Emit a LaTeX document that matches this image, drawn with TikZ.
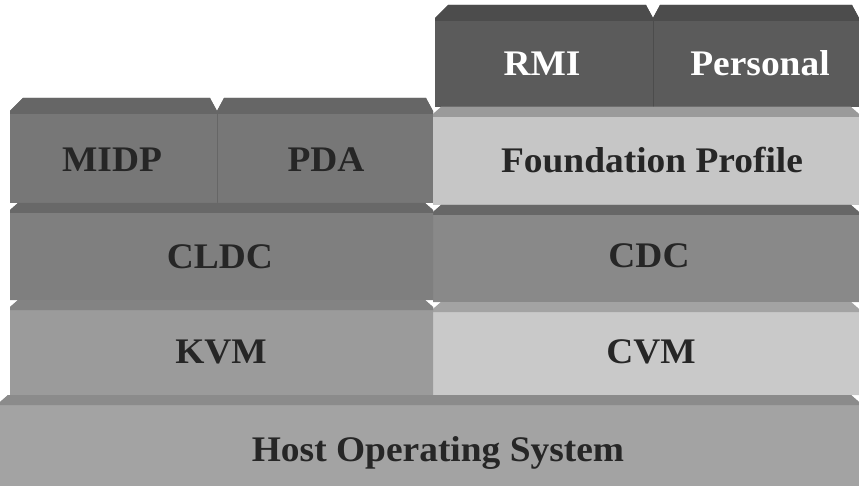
\documentclass[tikz,border=0pt]{standalone}
\usepackage{fontspec}
\setmainfont{Liberation Serif}
\newfontfamily\stackfont[FakeStretch=1.04]{Liberation Serif}

\definecolor{rmifill}{HTML}{5B5B5B}
\definecolor{rmistrip}{HTML}{4C4C4C}
\definecolor{midpfill}{HTML}{777777}
\definecolor{midpstrip}{HTML}{666666}
\definecolor{fpfill}{HTML}{C6C6C6}
\definecolor{fpstrip}{HTML}{9A9A9A}
\definecolor{cldcfill}{HTML}{7F7F7F}
\definecolor{cldcstrip}{HTML}{686868}
\definecolor{cdcfill}{HTML}{898989}
\definecolor{cdcstrip}{HTML}{676767}
\definecolor{kvmfill}{HTML}{9B9B9B}
\definecolor{kvmstrip}{HTML}{838383}
\definecolor{cvmfill}{HTML}{C9C9C9}
\definecolor{cvmstrip}{HTML}{A3A3A3}
\definecolor{hostfill}{HTML}{A3A3A3}
\definecolor{hoststrip}{HTML}{8B8B8B}

\tikzset{
  layerlabel/.style={font=\stackfont\bfseries\fontsize{36}{42}\selectfont,
    anchor=base, text=black!85},
  toplabel/.style={layerlabel, text=white},
}

% layer with bevelled top corners: x1, ytop, x2, ybot, fill, strip
\newcommand{\layerblock}[6]{%
  \fill[#5] (#1,#4) -- (#1,#2+7) -- (#1+8,#2) -- (#3-8,#2) -- (#3,#2+7) -- (#3,#4) -- cycle;
  \fill[#6] (#1,#2+10) -- (#1,#2+7) -- (#1+8,#2) -- (#3-8,#2) -- (#3,#2+7) -- (#3,#2+10) -- cycle;
}

% profile tab with a notch: x1, ytop, xnotch, x2, ybot, fill, strip
\newcommand{\tabblock}[7]{%
  \fill[#6] (#1,#5) -- (#1,#2+13) -- (#1+13,#2) -- (#3-7,#2) -- (#3,#2+13) -- (#3+7,#2)
    -- (#4-7,#2) -- (#4,#2+13) -- (#4,#5) -- cycle;
  \fill[#7] (#1,#2+16) -- (#1,#2+13) -- (#1+13,#2) -- (#3-7,#2) -- (#3,#2+13) -- (#3+7,#2)
    -- (#4-7,#2) -- (#4,#2+13) -- (#4,#2+16) -- cycle;
  \draw[#7, line width=0.4pt] (#3,#2+13) -- (#3,#5);
}

\begin{document}
\begin{tikzpicture}[x=1pt, y=-1pt]
    \useasboundingbox (0,0) rectangle (859,486);

    % right column, top tab
    \tabblock{435}{5}{653}{859}{107}{rmifill}{rmistrip}
    \node[toplabel] (rmi) at (542,76) {RMI};
    \node[toplabel] (personal) at (760,76) {Personal};

    % left column, top tab
    \tabblock{10}{98}{217}{433}{203}{midpfill}{midpstrip}
    \node[layerlabel] (midp) at (112,172) {MIDP};
    \node[layerlabel] (pda) at (326,172) {PDA};

    % right column layers
    \layerblock{433}{107}{859}{205}{fpfill}{fpstrip}
    \node[layerlabel] (fp) at (652,173) {Foundation Profile};
    \layerblock{433}{205}{859}{302}{cdcfill}{cdcstrip}
    \node[layerlabel] (cdc) at (649,268) {CDC};
    \layerblock{433}{302}{859}{395}{cvmfill}{cvmstrip}
    \node[layerlabel] (cvm) at (651,363) {CVM};

    % left column layers
    \layerblock{10}{203}{433}{300}{cldcfill}{cldcstrip}
    \node[layerlabel] (cldc) at (220,269) {CLDC};
    \layerblock{10}{300}{433}{395}{kvmfill}{kvmstrip}
    \node[layerlabel] (kvm) at (221,363) {KVM};

    % base layer
    \layerblock{0}{395}{859}{486}{hostfill}{hoststrip}
    \node[layerlabel] (host) at (438,461) {Host Operating System};
\end{tikzpicture}
\end{document}
